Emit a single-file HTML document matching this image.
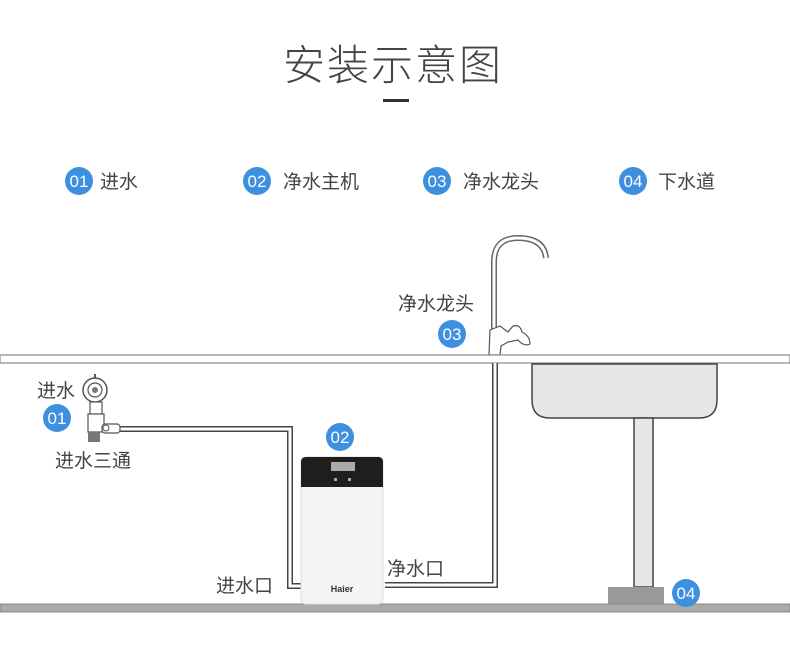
<!DOCTYPE html>
<html><head><meta charset="utf-8"><style>
html,body{margin:0;padding:0;background:#fff;}
svg{display:block;}
text{font-family:"Liberation Sans","Noto Sans CJK SC",sans-serif;}
.cj{fill:#444;font-size:19px;}
.num{fill:#fff;font-size:17px;text-anchor:middle;}
</style></head><body>
<svg width="790" height="663" viewBox="0 0 790 663" xmlns="http://www.w3.org/2000/svg">
<text x="393" y="80" text-anchor="middle" font-size="42" font-weight="300" fill="#444" letter-spacing="2">安装示意图</text>
<rect x="383" y="99" width="26" height="3" fill="#333"/>

<g>
<circle cx="79" cy="181" r="14" fill="#3d8fe0"/><text x="79" y="187" class="num">01</text><text x="100" y="188" class="cj">进水</text>
<circle cx="257" cy="181" r="14" fill="#3d8fe0"/><text x="257" y="187" class="num">02</text><text x="283" y="188" class="cj">净水主机</text>
<circle cx="437" cy="181" r="14" fill="#3d8fe0"/><text x="437" y="187" class="num">03</text><text x="463" y="188" class="cj">净水龙头</text>
<circle cx="633" cy="181" r="14" fill="#3d8fe0"/><text x="633" y="187" class="num">04</text><text x="658" y="188" class="cj">下水道</text>
</g>

<!-- faucet -->
<path d="M494 340 V262 Q494 238 518 238 Q544 238 546 258" fill="none" stroke="#666" stroke-width="6"/>
<path d="M494 340 V262 Q494 238 518 238 Q544 238 546 258" fill="none" stroke="#fff" stroke-width="3"/>
<path d="M489 355 L490 330 L500 326 L508 332 L513 326 Q520 324 522 332 Q530 336 530 344 Q524 347 518 340 L508 342 L501 346 L500 355 Z" fill="#fff" stroke="#555" stroke-width="1.2"/>

<!-- counter -->
<rect x="0" y="355" width="790" height="8" fill="#fff" stroke="#888" stroke-width="1.2"/>

<!-- sink -->
<path d="M532 364 V400 Q532 418 550 418 H699 Q717 418 717 400 V364 Z" fill="#e6e6e6" stroke="#444" stroke-width="1.5"/>
<rect x="634" y="418" width="19" height="169" fill="#e6e6e6" stroke="#444" stroke-width="1.5"/>
<rect x="608" y="587" width="56" height="18" fill="#999"/>

<!-- floor -->
<rect x="0" y="604" width="790" height="8" fill="#aaa" stroke="#888" stroke-width="1"/>

<!-- outlet pipe -->
<path d="M385 585 H495 V363" fill="none" stroke="#444" stroke-width="6"/>
<path d="M385 585 H495 V363" fill="none" stroke="#fff" stroke-width="3"/>

<!-- inlet pipe -->
<path d="M115 429 H290 V586 H301" fill="none" stroke="#444" stroke-width="6"/>
<path d="M115 429 H290 V586 H301" fill="none" stroke="#fff" stroke-width="3"/>

<!-- valve & tee -->
<circle cx="95" cy="390" r="12" fill="#fff" stroke="#555" stroke-width="1.5"/>
<circle cx="95" cy="390" r="7" fill="none" stroke="#555" stroke-width="1.2"/>
<circle cx="95" cy="390" r="3" fill="#777"/>
<line x1="95" y1="374" x2="95" y2="378" stroke="#555" stroke-width="2"/>
<rect x="90" y="402" width="12" height="12" fill="#fff" stroke="#555" stroke-width="1.2"/>
<rect x="88" y="414" width="16" height="18" fill="#fff" stroke="#555" stroke-width="1.2"/>
<rect x="88" y="432" width="12" height="10" fill="#777"/>
<rect x="102" y="424" width="18" height="9" rx="3" fill="#fff" stroke="#555" stroke-width="1.2"/>
<circle cx="106" cy="428" r="3" fill="none" stroke="#555"/>

<!-- machine -->
<rect x="301" y="457" width="82" height="147" rx="5" fill="#f4f4f4" stroke="#ddd"/>
<path d="M301 487 V462 Q301 457 306 457 H378 Q383 457 383 462 V487 Z" fill="#1e1e1e"/>
<rect x="331" y="462" width="24" height="9" fill="#aaa"/>
<rect x="334" y="478" width="3" height="3" fill="#aaa"/><rect x="348" y="478" width="3" height="3" fill="#aaa"/>
<text x="342" y="592" text-anchor="middle" font-size="9" font-weight="bold" fill="#333">Haier</text>

<!-- labels -->
<text x="37" y="397" class="cj">进水</text>
<circle cx="57" cy="418" r="14" fill="#3d8fe0"/><text x="57" y="424" class="num">01</text>
<text x="55" y="467" class="cj">进水三通</text>
<circle cx="340" cy="437" r="14" fill="#3d8fe0"/><text x="340" y="443" class="num">02</text>
<text x="216" y="592" class="cj">进水口</text>
<text x="387" y="575" class="cj">净水口</text>
<text x="398" y="310" class="cj">净水龙头</text>
<circle cx="452" cy="334" r="14" fill="#3d8fe0"/><text x="452" y="340" class="num">03</text>
<circle cx="686" cy="593" r="14" fill="#3d8fe0"/><text x="686" y="599" class="num">04</text>
</svg>
</body></html>
